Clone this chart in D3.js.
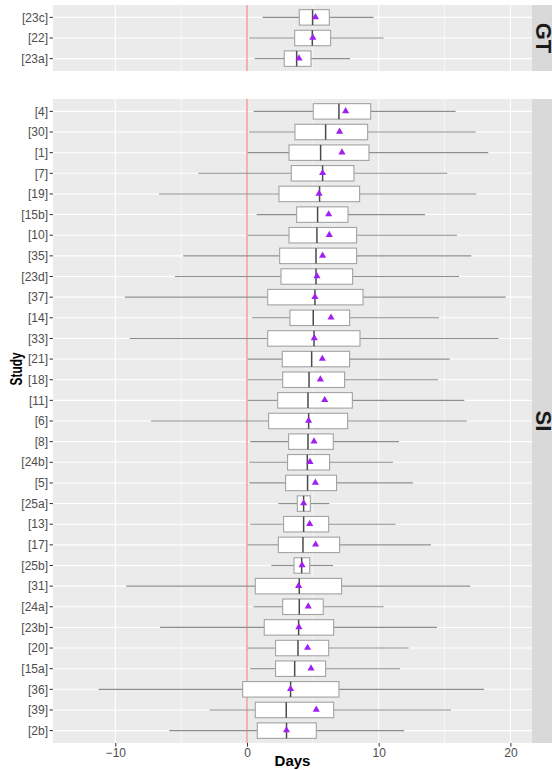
<!DOCTYPE html>
<html>
<head>
<meta charset="utf-8">
<script src="https://cdn.jsdelivr.net/npm/d3@7"></script>
<style>
  html, body { margin: 0; padding: 0; background: #fff; }
  svg { display: block; font-family: "Liberation Sans", Arial, Helvetica, sans-serif; }
</style>
</head>
<body>
<svg id="chart" width="552" height="770"></svg>
<script>
// ---- data ----
const facetNames = ["GT", "SI"];
const study = ["[23c]","[22]","[23a]",
  "[4]","[30]","[1]","[7]","[19]","[15b]","[10]","[35]","[23d]","[37]","[14]","[33]","[21]","[18]","[11]","[6]","[8]","[24b]","[5]","[25a]","[13]","[17]","[25b]","[31]","[24a]","[23b]","[20]","[15a]","[36]","[39]","[2b]"];
const facet = ["GT","GT","GT",
  "SI","SI","SI","SI","SI","SI","SI","SI","SI","SI","SI","SI","SI","SI","SI","SI","SI","SI","SI","SI","SI","SI","SI","SI","SI","SI","SI","SI","SI","SI","SI"];
const whiskerLow  = [1.18, 0.17, 0.58,
  0.5, 0.15, 0.05, -3.7, -6.68, 0.73, 0.05, -4.84, -5.47, -9.27, 0.38, -8.91, 0.05, 0.05, 0.05, -7.29, 0.25, 0.17, 0.17, 2.38, 0.25, 0.05, 1.85, -9.17, 0.5, -6.6, 0.05, 0.25, -11.27, -2.84, -5.9];
const q1 = [3.97, 3.62, 2.83,
  5.03, 3.64, 3.19, 3.36, 2.43, 3.77, 3.19, 2.48, 2.58, 1.57, 3.26, 1.57, 2.68, 2.71, 2.33, 1.64, 3.16, 3.08, 2.93, 3.82, 2.78, 2.38, 3.57, 0.63, 2.71, 1.31, 2.17, 2.17, -0.33, 0.63, 0.78];
const median = [4.98, 4.96, 3.77,
  6.98, 5.97, 5.59, 5.74, 5.51, 5.36, 5.31, 5.24, 5.24, 5.16, 5.03, 5.09, 4.91, 4.71, 4.63, 4.68, 4.63, 4.58, 4.6, 4.3, 4.3, 4.25, 4.15, 3.97, 3.97, 3.92, 3.87, 3.62, 3.31, 2.98, 3.0];
const q3 = [6.25, 6.35, 4.86,
  9.39, 9.16, 9.26, 8.12, 8.55, 7.67, 8.32, 8.32, 8.02, 8.81, 7.79, 8.58, 7.79, 7.41, 8.0, 7.64, 6.55, 6.27, 6.8, 4.81, 6.2, 7.03, 4.76, 7.18, 5.79, 6.58, 6.2, 5.97, 6.98, 6.58, 5.26];
const whiskerHigh = [9.61, 10.37, 7.82,
  15.84, 17.36, 18.32, 15.21, 17.41, 13.51, 15.95, 17.03, 16.1, 19.64, 14.58, 19.1, 15.39, 14.5, 16.5, 16.7, 11.54, 11.09, 12.6, 6.25, 11.29, 13.97, 6.53, 16.96, 10.37, 14.43, 12.27, 11.62, 18.0, 15.49, 11.94];
const mean = [5.2, 5.0, 3.95,
  7.49, 7.03, 7.21, 5.74, 5.47, 6.2, 6.25, 5.74, 5.31, 5.16, 6.38, 5.11, 5.72, 5.57, 5.9, 4.68, 5.09, 4.78, 5.19, 4.3, 4.76, 5.21, 4.18, 3.92, 4.65, 3.94, 4.6, 4.86, 3.31, 5.26, 3.0];
const xTicks = [-10, 0, 10, 20];
const xMinor = [-5, 5, 15];
const refLine = 0;

// ---- layout ----
const svg = d3.select("#chart");
const panelLeft = 53, panelRight = 532;
const panels = [
  { name: "GT", top: 5, bottom: 71 },
  { name: "SI", top: 99, bottom: 743 }
];
const x = d3.scaleLinear().domain([-14.73, 21.64]).range([panelLeft, panelRight]);

const rows = study.map((s, i) => ({
  study: s, facet: facet[i], lo: whiskerLow[i], q1: q1[i], med: median[i],
  q3: q3[i], hi: whiskerHigh[i], mean: mean[i]
}));

panels.forEach(p => {
  const data = rows.filter(r => r.facet === p.name);
  const y = d3.scalePoint().domain(data.map(d => d.study))
    .range([p.top, p.bottom]).padding(0.6);
  const step = y.step();
  const boxH = step * 0.75;

  const g = svg.append("g");
  // background
  g.append("rect").attr("x", panelLeft).attr("y", p.top)
    .attr("width", panelRight - panelLeft).attr("height", p.bottom - p.top)
    .attr("fill", "#EBEBEB");
  // minor grid
  g.selectAll(".minor").data(xMinor).join("line")
    .attr("x1", d => x(d)).attr("x2", d => x(d))
    .attr("y1", p.top).attr("y2", p.bottom)
    .attr("stroke", "#fff").attr("stroke-width", 0.55);
  // major grid vertical
  g.selectAll(".majx").data(xTicks).join("line")
    .attr("x1", d => x(d)).attr("x2", d => x(d))
    .attr("y1", p.top).attr("y2", p.bottom)
    .attr("stroke", "#fff").attr("stroke-width", 1.07);
  // major grid horizontal
  g.selectAll(".majy").data(data).join("line")
    .attr("x1", panelLeft).attr("x2", panelRight)
    .attr("y1", d => y(d.study)).attr("y2", d => y(d.study))
    .attr("stroke", "#fff").attr("stroke-width", 1.07);
  // reference line
  g.append("line").attr("x1", x(refLine)).attr("x2", x(refLine))
    .attr("y1", p.top).attr("y2", p.bottom)
    .attr("stroke", "#F27A7A").attr("stroke-width", 1.1);

  // whiskers
  g.selectAll(".wl").data(data).join("line")
    .attr("x1", d => x(d.lo)).attr("x2", d => x(d.q1))
    .attr("y1", d => y(d.study)).attr("y2", d => y(d.study))
    .attr("stroke", "#8E8E8E").attr("stroke-width", 1.1);
  g.selectAll(".wh").data(data).join("line")
    .attr("x1", d => x(d.q3)).attr("x2", d => x(d.hi))
    .attr("y1", d => y(d.study)).attr("y2", d => y(d.study))
    .attr("stroke", "#8E8E8E").attr("stroke-width", 1.1);
  // boxes
  g.selectAll(".box").data(data).join("rect")
    .attr("x", d => x(d.q1)).attr("width", d => x(d.q3) - x(d.q1))
    .attr("y", d => y(d.study) - boxH / 2).attr("height", boxH)
    .attr("fill", "#fff").attr("stroke", "#A3A3A3").attr("stroke-width", 1.1);
  // medians
  g.selectAll(".med").data(data).join("line")
    .attr("x1", d => x(d.med)).attr("x2", d => x(d.med))
    .attr("y1", d => y(d.study) - boxH / 2).attr("y2", d => y(d.study) + boxH / 2)
    .attr("stroke", "#4A4A4A").attr("stroke-width", 1.5);
  // means
  g.selectAll(".mean").data(data).join("path")
    .attr("d", d3.symbol(d3.symbolTriangle, 22))
    .attr("transform", d => `translate(${x(d.mean)},${y(d.study) - 0.3})`)
    .attr("fill", "#A020F0");

  // y axis ticks + labels
  g.selectAll(".yt").data(data).join("line")
    .attr("x1", panelLeft - 3.5).attr("x2", panelLeft)
    .attr("y1", d => y(d.study)).attr("y2", d => y(d.study))
    .attr("stroke", "#333").attr("stroke-width", 1);
  g.selectAll(".yl").data(data).join("text")
    .attr("x", panelLeft - 5).attr("y", d => y(d.study))
    .attr("dy", "0.35em").attr("text-anchor", "end")
    .attr("font-size", 12).attr("fill", "#4D4D4D")
    .text(d => d.study);

  // strip
  g.append("rect").attr("x", panelRight).attr("y", p.top)
    .attr("width", 30).attr("height", p.bottom - p.top)
    .attr("fill", "#D9D9D9");
  g.append("text")
    .attr("transform", `translate(535.5,${(p.top + p.bottom) / 2}) rotate(90)`)
    .attr("text-anchor", "middle")
    .attr("font-size", 22).attr("font-weight", "bold").attr("fill", "#1A1A1A")
    .text(p.name);
});

// x axis
const last = panels[panels.length - 1];
const xAxisG = svg.append("g").attr("transform", `translate(0,${last.bottom})`);
xAxisG.call(d3.axisBottom(x).tickValues(xTicks).tickSize(3.5).tickPadding(2)
  .tickFormat(d => d < 0 ? "\u2212" + Math.abs(d) : d));
xAxisG.select(".domain").remove();
xAxisG.selectAll(".tick line").attr("stroke", "#333");
xAxisG.selectAll(".tick text").attr("font-size", 12).attr("fill", "#4D4D4D")
  .attr("font-family", "Liberation Sans, Arial, sans-serif");

// axis titles
svg.append("text").attr("x", (panelLeft + panelRight) / 2).attr("y", 766)
  .attr("text-anchor", "middle").attr("font-size", 15).attr("font-weight", "bold")
  .attr("fill", "#000").text("Days");
svg.append("text")
  .attr("transform", `translate(22,${(panels[0].top + last.bottom) / 2 - 5}) rotate(-90) scale(0.72,1)`)
  .attr("text-anchor", "middle").attr("font-size", 16.5).attr("font-weight", "bold")
  .attr("fill", "#000").text("Study");
</script>
</body>
</html>
